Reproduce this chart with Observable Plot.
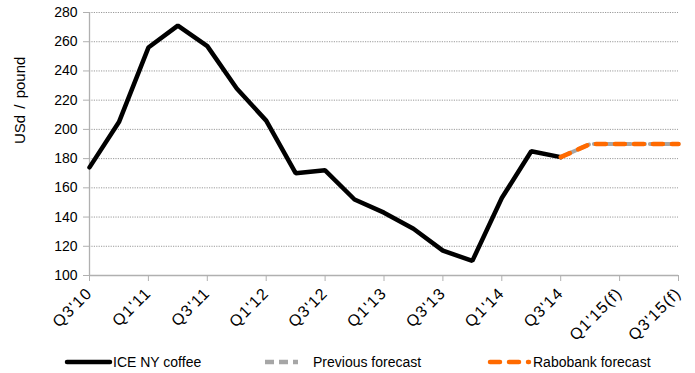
<!DOCTYPE html>
<html><head><meta charset="utf-8">
<script src="https://cdn.jsdelivr.net/npm/d3@7"></script>
<script src="https://cdn.jsdelivr.net/npm/@observablehq/plot@0.6"></script>
<style>
body{margin:0;background:#fff;font-family:"Liberation Sans",Arial,sans-serif;overflow:hidden;}
#legend{position:relative;height:25px;width:695px;font-size:14px;color:#000;}
.item{position:absolute;top:4px;display:flex;align-items:center;height:20px;}
.item svg{display:block}
g[aria-label="x-axis tick label"] text{letter-spacing:1.2px;}
g[aria-label="text"] text{word-spacing:2px;}
</style></head>
<body><div id="chart"></div><div id="legend"></div>
<script>
const quarters = ["Q3'10","Q4'10","Q1'11","Q2'11","Q3'11","Q4'11","Q1'12","Q2'12","Q3'12","Q4'12","Q1'13","Q2'13","Q3'13","Q4'13","Q1'14","Q2'14","Q3'14","Q4'14","Q1'15(f)","Q2'15(f)","Q3'15(f)"];
const tickLabels = ["Q3'10","Q1'11","Q3'11","Q1'12","Q3'12","Q1'13","Q3'13","Q1'14","Q3'14","Q1'15(f)","Q3'15(f)"];
const iceQuarters = quarters.slice(0,17);
const iceValues = [174,205,256,271,257,228,206,170,172,152,143,132,117,110,153,185,181];
const fcQuarters = ["Q3'14","Q4'14","Q1'15(f)","Q2'15(f)","Q3'15(f)"];
const previousForecast = [181,190,190,190,190];
const rabobankForecast = [181,190,190,190,190];
const yTicks = [100,120,140,160,180,200,220,240,260,280];

const ice = iceQuarters.map((q,i)=>({q, v: iceValues[i]}));
const prev = fcQuarters.map((q,i)=>({q, v: previousForecast[i]}));
const rabo = fcQuarters.map((q,i)=>({q, v: rabobankForecast[i]}));

const chart = Plot.plot({
  width: 695, height: 348,
  marginTop: 12, marginBottom: 73, marginLeft: 89, marginRight: 17,
  style: {fontFamily: "Liberation Sans, Arial, sans-serif", fontSize: "14px", color: "#000"},
  x: {type: "point", domain: quarters, padding: 0, round: false, axis: null},
  y: {domain: [100,280], axis: null},
  marks: [
    Plot.gridY(yTicks, {stroke: "#9a9a9a", strokeOpacity: 1, strokeDasharray: "1.2,1.2", strokeWidth: 1}),
    Plot.axisY(yTicks, {tickSize: 6, stroke: "#b0b0b0", tickPadding: 6, fontSize: 14, label: null}),
    Plot.text(["USd / pound"], {frameAnchor: "left", dx: -69, rotate: -90, fontSize: 15}),
    Plot.ruleX([quarters[0]], {stroke: "#b0b0b0", strokeWidth: 1.3}),
    Plot.ruleY([100], {stroke: "#b0b0b0", strokeWidth: 1.3}),
    Plot.axisX(tickLabels, {tickSize: 6, stroke: "#b0b0b0", tickRotate: -45, fontSize: 16, tickPadding: 9, label: null}),
    Plot.line(prev, {x: "q", y: "v", stroke: "#a6a6a6", strokeWidth: 4, strokeDasharray: "9,5", strokeDashoffset: 6}),
    Plot.line(ice, {x: "q", y: "v", stroke: "#000", strokeWidth: 4.5, strokeLinejoin: "miter"}),
    Plot.line(rabo, {x: "q", y: "v", stroke: "#ff6a00", strokeWidth: 4.5, strokeDasharray: "10,9", strokeLinecap: "round"})
  ]
});
document.getElementById("chart").appendChild(chart);

const legendItems = [
  {label: "ICE NY coffee", left: 64, color: "#000", dash: null, w: 46, gap: 0, cap: "round"},
  {label: "Previous forecast", left: 262, color: "#a6a6a6", dash: "9,5", w: 36, gap: 12, cap: "butt"},
  {label: "Rabobank forecast", left: 487, color: "#ff6a00", dash: "10,9", w: 42, gap: 1, cap: "round"}
];
const leg = d3.select("#legend");
for (const it of legendItems) {
  const d = leg.append("div").attr("class","item").style("left", it.left+"px");
  const s = d.append("svg").attr("width", it.w+3).attr("height", 12);
  s.append("line").attr("x1",3).attr("x2",it.w).attr("y1",6).attr("y2",6)
    .attr("stroke",it.color).attr("stroke-width",4.5)
    .attr("stroke-linecap", it.cap)
    .attr("stroke-dasharray", it.dash);
  d.append("span").text(it.label).style("margin-left", it.gap+"px");
}
</script></body></html>
